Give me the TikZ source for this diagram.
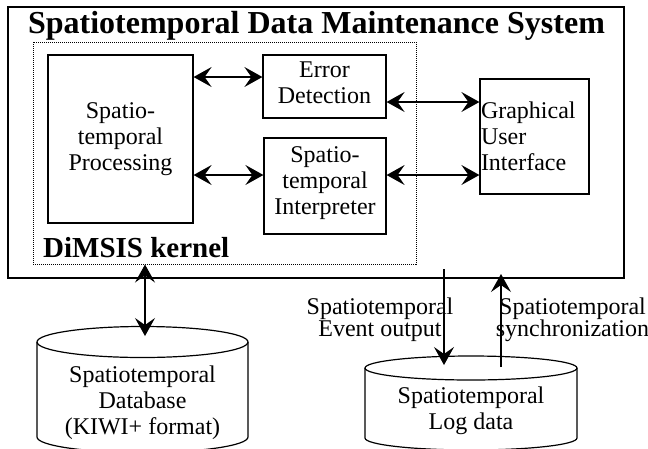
\documentclass[tikz,border=0pt]{standalone}
\usepackage{fontspec}
\setmainfont{Liberation Serif}
\usetikzlibrary{arrows.meta,calc}

\begin{document}
\begin{tikzpicture}[x=1pt,y=-1pt,
  bigtip/.tip={Stealth[length=18pt,width=20pt,inset=7pt]},
  frame/.style={draw,line width=1.2pt,inner sep=0pt},
  kernelbox/.style={draw,line width=1pt,dash pattern=on 1pt off 1pt,inner sep=0pt},
  unit/.style={draw,line width=1.2pt,inner sep=0pt,align=center,
    font=\fontsize{24}{26}\selectfont},
  body/.style={inner sep=0pt,align=center,font=\fontsize{24}{26}\selectfont},
  cyl/.style={line width=1.2pt},
  conn/.style={line width=1.2pt,bigtip-bigtip},
  oneway/.style={line width=1.2pt,-bigtip}]

\useasboundingbox (0,0) rectangle (648,448);
\clip (0,0) rectangle (648,448);

% system frame and kernel frame
\node[frame,minimum width=616pt,minimum height=271pt] (sys) at (316,142.5) {};
\node[kernelbox,minimum width=383pt,minimum height=222pt] (kernel) at (224.5,153) {};

\node[anchor=base,inner sep=0pt,font=\bfseries\fontsize{32}{32}\selectfont] (title)
  at (316.5,33) {Spatiotemporal Data Maintenance System};
\node[anchor=base west,inner sep=0pt,font=\bfseries\fontsize{29}{29}\selectfont] (klabel)
  at (43,257) {DiMSIS kernel};

% functional units (a deeper last line lifts the text a little)
\node[unit,minimum width=145pt,minimum height=168pt] (proc) at (120.5,139)
  {Spatio-\\temporal\\Processing};
\node[unit,minimum width=123pt,minimum height=63pt,text depth=8pt] (err) at (324.5,86.5)
  {Error\\Detection};
\node[unit,minimum width=122pt,minimum height=96pt,text depth=11pt] (interp) at (325,186)
  {Spatio-\\temporal\\Interpreter};
\node[unit,minimum width=109pt,minimum height=115pt,inner xsep=1pt,
  text width=107pt,align=left] (gui) at (534.5,136.5)
  {Graphical\\User\\Interface};

% storage cylinders
\draw[cyl] (142.5,342) ellipse [x radius=105.5,y radius=15.5];
\draw[cyl] (37,342) -- (37,437) arc[start angle=180,end angle=0,x radius=105.5,y radius=15.5] -- (248,342);
\draw[cyl] (471,368) ellipse [x radius=106,y radius=12];
\draw[cyl] (365,368) -- (365,438) arc[start angle=180,end angle=0,x radius=106,y radius=12] -- (577,368);

% multi-line text is placed by the baseline of its last line
\node[body,anchor=base] (dbtext) at (142.5,434)
  {Spatiotemporal\\Database\\(KIWI+ format)};
\node[body,anchor=base] (logtext) at (471,429)
  {Spatiotemporal\\Log data};

% connectors
\draw[conn] (proc.east |- 0,77) -- (err.west |- 0,77);
\draw[conn] (proc.east |- 0,175) -- (interp.west |- 0,175);
\draw[conn] (err.east |- 0,102) -- (gui.west |- 0,102);
\draw[conn] (interp.east |- 0,175) -- (gui.west |- 0,175);

\coordinate (dbin) at (145,336);
\draw[conn] (kernel.south -| dbin) -- (dbin);

\coordinate (evout) at (444,269);
\coordinate (evin) at (444,365);
\draw[oneway] (evout) -- (evin);
\coordinate (syncsrc) at (501,367);
\coordinate (synctgt) at (501,274);
\draw[oneway] (syncsrc) -- (synctgt);

\node[body,anchor=base,font=\fontsize{24}{22}\selectfont] (evlabel) at (380,336)
  {Spatiotemporal\\Event output};
\node[body,anchor=base,font=\fontsize{24}{22}\selectfont] (synclabel) at (572.5,336)
  {Spatiotemporal\\synchronization};
\end{tikzpicture}
\end{document}
